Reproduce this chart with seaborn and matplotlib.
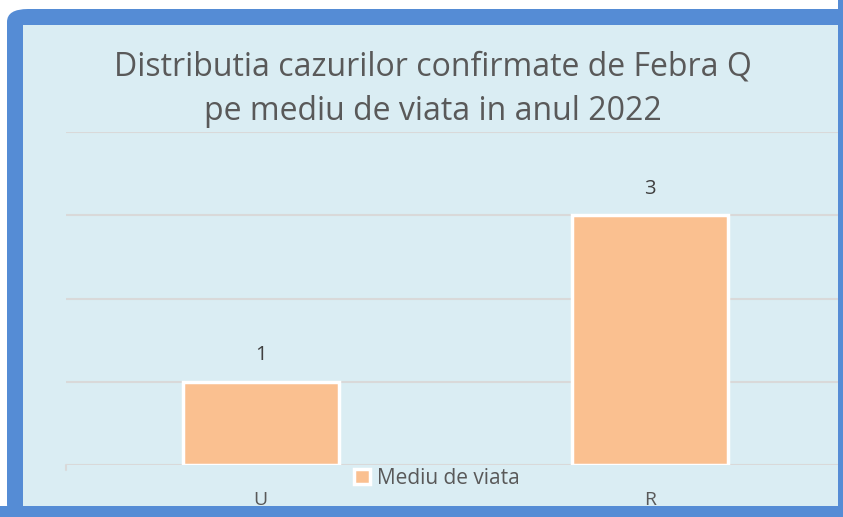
import matplotlib

matplotlib.use("Agg")
import matplotlib.pyplot as plt
import pandas as pd
import seaborn as sns
from matplotlib.patches import FancyBboxPatch, Rectangle

categories = ["U", "R"]
values = [1, 3]
series_name = "Mediu de viata"
title = "Distributia cazurilor confirmate de Febra Q\npe mediu de viata in anul 2022"

BAR_COLOR = "#FAC090"
BG_COLOR = "#DAEDF3"
BORDER_COLOR = "#558CD5"
GRID_COLOR = "#D9D9D9"
TEXT_COLOR = "#595959"

W, H = 843, 517
df = pd.DataFrame({"cat": categories, "val": values})

sns.set_theme(style="white")
plt.rcParams["font.family"] = ["Open Sans", "DejaVu Sans"]

fig = plt.figure(figsize=(W / 100, H / 100), dpi=100, facecolor="white")

# outer blue frame and inner panel
fig.patches.append(FancyBboxPatch((7 / W, 0), (W + 20 - 7) / W, (H - 9) / H,
                                  boxstyle="round,pad=0,rounding_size=0.025",
                                  transform=fig.transFigure, facecolor=BORDER_COLOR,
                                  edgecolor="none", zorder=0))
fig.patches.append(Rectangle((23 / W, (H - 506) / H), (838 - 23) / W, (506 - 25) / H,
                             transform=fig.transFigure, facecolor=BG_COLOR,
                             edgecolor="none", zorder=0.5))

ax = fig.add_axes([66 / W, (H - 465) / H, (845 - 66) / W, (465 - 132) / H])
ax.set_zorder(2)
ax.set_facecolor("none")
sns.barplot(data=df, x="cat", y="val", color=BAR_COLOR, width=0.4, saturation=1,
            edgecolor="white", linewidth=2.5, ax=ax, label=series_name, zorder=3)

ax.set_xlim(-0.5, 1.5)
ax.set_ylim(0, 4)
ax.set_yticks(range(0, 5))
ax.yaxis.grid(True, color=GRID_COLOR, linewidth=1.5)
ax.set_axisbelow(True)
ax.tick_params(axis="y", left=False, labelleft=False)
ax.tick_params(axis="x", bottom=False, labelsize=14, labelcolor=TEXT_COLOR, pad=13)
for s in ax.spines.values():
    s.set_visible(False)
ax.set_xlabel("")
ax.set_ylabel("")

for i, v in enumerate(values):
    ax.annotate(str(v), (i, v), xytext=(0, 12), textcoords="offset points",
                ha="center", va="bottom", fontsize=14.5, color="#404040")

# small tick at the left end of the axis line
ax.plot([0, 0], [0, -0.015], transform=ax.transAxes, color=GRID_COLOR,
        linewidth=1.5, clip_on=False)

fig.text(433 / W, 1 - 89 / H, title, ha="center", va="center", fontsize=23,
         color=TEXT_COLOR, linespacing=1.45)

leg = ax.legend(loc="center", bbox_to_anchor=(437 / W, 1 - 478 / H),
                bbox_transform=fig.transFigure, frameon=False, fontsize=15,
                handlelength=0.75, handleheight=0.75, handletextpad=0.35)
for t in leg.get_texts():
    t.set_color(TEXT_COLOR)

# right edge of the frame drawn over the axes overflow
fig.patches.append(Rectangle((838 / W, 0), 10 / W, 1, transform=fig.transFigure,
                             facecolor=BORDER_COLOR, edgecolor="none", zorder=10))
fig.patches.append(Rectangle((0, 0), 1, (H - 506) / H, transform=fig.transFigure,
                             facecolor=BORDER_COLOR, edgecolor="none", zorder=10))

fig.savefig("out.png", dpi=100, facecolor="white")
